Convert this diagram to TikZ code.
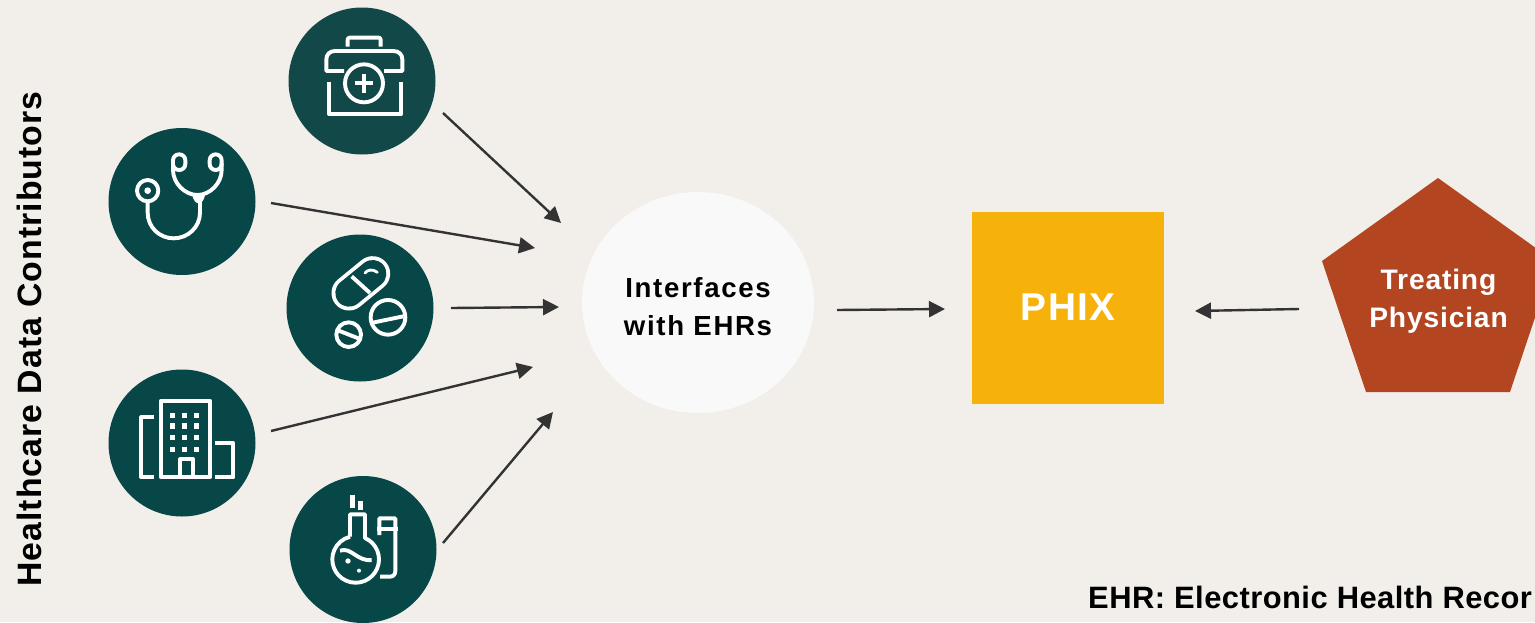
\documentclass[tikz,border=0pt]{standalone}
\usepackage{fontspec}
\setmainfont{Liberation Sans}
\newfontfamily\widefont[LetterSpace=6]{Liberation Sans}
\newfontfamily\midfont[LetterSpace=3]{Liberation Sans}
\newfontfamily\slimfont[LetterSpace=1.5]{Liberation Sans}
\usetikzlibrary{arrows.meta,shapes.geometric}
\definecolor{pagebg}{HTML}{F2EFEA}
\definecolor{tealA}{HTML}{134849}
\definecolor{tealB}{HTML}{074748}
\definecolor{phixgold}{HTML}{F6B20A}
\definecolor{pentared}{HTML}{B34520}
\definecolor{softwhite}{HTML}{F9F9F9}
\definecolor{arrowgrey}{HTML}{333333}
\tikzset{
  bubble/.style={circle,minimum size=147pt,inner sep=0pt,fill=tealB},
  flow/.style={draw=arrowgrey,line width=2.4pt,-{Triangle[length=16pt,width=16pt]}},
  icon/.style={draw=white,line width=3.9pt,line join=round,fill=none},
  iconthin/.style={draw=white,line width=2.8pt,line cap=round},
  iconfill/.style={fill=white,draw=none},
  zoomed/.style={x=0.33333pt,y=-0.33333pt},
}
\begin{document}
\begin{tikzpicture}[x=1pt,y=-1pt]
\useasboundingbox (0,0) rectangle (1535,622);
\fill[pagebg] (0,0) rectangle (1535,622);
\clip (0,0) rectangle (1535,622);

% contributor circles
\node[bubble,fill=tealA] (kit) at (362,81) {};
\node[bubble] (scope) at (182,201.5) {};
\node[bubble] (pills) at (360,308) {};
\node[bubble] (hospital) at (182,443) {};
\node[bubble] (lab) at (363,549.5) {};

% hub
\node[ellipse,minimum width=232pt,minimum height=221pt,inner sep=0pt,fill=softwhite,align=center,
  font=\widefont\bfseries\fontsize{27.6}{38}\selectfont] (hub) at (698,302.5)
  {\rule{0pt}{28pt}Interfaces\\with EHRs};

% PHIX
\node[rectangle,minimum size=192pt,inner sep=0pt,fill=phixgold,text=white,
  font=\midfont\bfseries\fontsize{38.8}{46}\selectfont] (phix) at (1068,308) {\raisebox{2pt}{PHIX}};

% physician
\fill[pentared] (1438,178) -- (1554,261) -- (1510,392) -- (1366,392) -- (1322,261) -- cycle;
\node[align=center,text=white,inner sep=0pt,
  font=\midfont\bfseries\fontsize{28.2}{38}\selectfont] (physician) at (1438.5,301.5)
  {Treating\\Physician};

% side labels
\node[rotate=90,anchor=base,inner sep=0pt,font=\midfont\bfseries\fontsize{33.8}{40}\selectfont] (contrib) at (41.5,339)
  {Healthcare Data Contributors};
\node[anchor=base west,inner sep=0pt,font=\slimfont\bfseries\fontsize{30.9}{36}\selectfont] (ehrnote) at (1088,608)
  {EHR: Electronic Health Recor};

% connector ends
\coordinate (a1) at (443,113); \coordinate (b1) at (561,223);
\coordinate (a2) at (271,203); \coordinate (b2) at (535,248);
\coordinate (a3) at (451,308); \coordinate (b3) at (559,307);
\coordinate (a4) at (271,431); \coordinate (b4) at (533,367);
\coordinate (a5) at (443,543); \coordinate (b5) at (553,412);
\coordinate (a6) at (837,310); \coordinate (b6) at (945,309);
\coordinate (a7) at (1299,309); \coordinate (b7) at (1195,311);
\draw[flow] (a1) -- (b1);
\draw[flow] (a2) -- (b2);
\draw[flow] (a3) -- (b3);
\draw[flow] (a4) -- (b4);
\draw[flow] (a5) -- (b5);
\draw[flow] (a6) -- (b6);
\draw[flow] (a7) -- (b7);

% medical kit
\begin{scope}[shift={(280,0)},zoomed]
  \draw[icon,rounded corners=2pt] (203,140) -- (203,113) -- (302,113) -- (302,140);
  \draw[icon] (192,213) -- (139,213) -- (139,178) .. controls (139,163) and (150,153) .. (165,153)
     -- (340,153) .. controls (356,153) and (367,163) .. (367,178) -- (367,213) -- (312,213);
  \draw[icon] (252,250) circle[radius=57];
  \draw[icon] (252,222) -- (252,278) (224,250) -- (280,250);
  \draw[icon] (147,245) -- (147,342) -- (364,342) -- (364,245);
\end{scope}

% stethoscope
\begin{scope}[shift={(100,120)},zoomed]
  \draw[icon] (143,212) circle[radius=32];
  \fill[iconfill] (143,212) circle[radius=10];
  \draw[icon] (143,245) -- (143,278) .. controls (143,321) and (178,355) .. (221,355)
     .. controls (264,355) and (300,321) .. (300,278) -- (300,235);
  \fill[iconfill] (277,226) -- (315,226) .. controls (312,240) and (305,250) .. (296,250)
     .. controls (287,250) and (280,240) .. (277,226) -- cycle;
  \draw[icon] (219,130) -- (219,150) .. controls (219,190) and (255,225) .. (292,225)
     .. controls (330,225) and (365,190) .. (365,150) -- (365,130);
  \draw[icon,rounded corners=6pt] (219,150) -- (219,103) -- (256,103) -- (256,150) -- cycle;
  \draw[icon,rounded corners=6pt] (329,150) -- (329,103) -- (365,103) -- (365,150) -- cycle;
\end{scope}

% pills
\begin{scope}[shift={(280,228)},zoomed]
  \draw[line cap=round,line width=35pt,white] (207,195) -- (278,137);
  \draw[line cap=round,line width=27.4pt,tealB] (207,195) -- (278,137);
  \draw[icon] (215,145) -- (270,195);
  \draw[iconthin] (255,135) .. controls (262,125) and (278,122) .. (292,133);
  \draw[icon] (324,268) circle[radius=52];
  \draw[icon] (278,284) -- (370,265);
  \draw[icon] (206,320) circle[radius=37];
  \draw[icon] (174,307) -- (240,333);
\end{scope}

% hospital building
\begin{scope}[shift={(100,365)},zoomed]
  \draw[icon] (183,107) rectangle (330,337);
  \draw[icon] (162,157) -- (124,157) -- (124,337) -- (162,337);
  \draw[icon] (346,234) -- (400,234) -- (400,337) -- (346,337);
  \draw[icon] (240,337) -- (240,283) -- (280,283) -- (280,337);
  \foreach \wx in {217,253,289}
    \foreach \wy in {152,183,218,254}
      \fill[iconfill] (\wx-8,\wy-8) rectangle (\wx+8,\wy+8);
\end{scope}

% flask
\begin{scope}[shift={(285,465)},zoomed]
  \draw[icon] (195,215) -- (195,148) -- (240,148) -- (240,219)
     arc[start angle=-66.4,end angle=256,radius=70];
  \draw[icon] (165,257) .. controls (200,245) and (215,290) .. (260,285);
  \fill[iconfill] (189,288) circle[radius=8];
  \fill[iconfill] (222,317) circle[radius=6];
  \fill[iconfill] (195,90) rectangle (209,128);
  \fill[iconfill] (219,108) rectangle (233,134);
  \draw[icon] (283,210) -- (283,160) -- (331,160) -- (331,318)
     .. controls (331,328) and (325,335) .. (315,335) -- (285,335);
  \draw[icon] (276,193) -- (339,193);
\end{scope}
\end{tikzpicture}
\end{document}
